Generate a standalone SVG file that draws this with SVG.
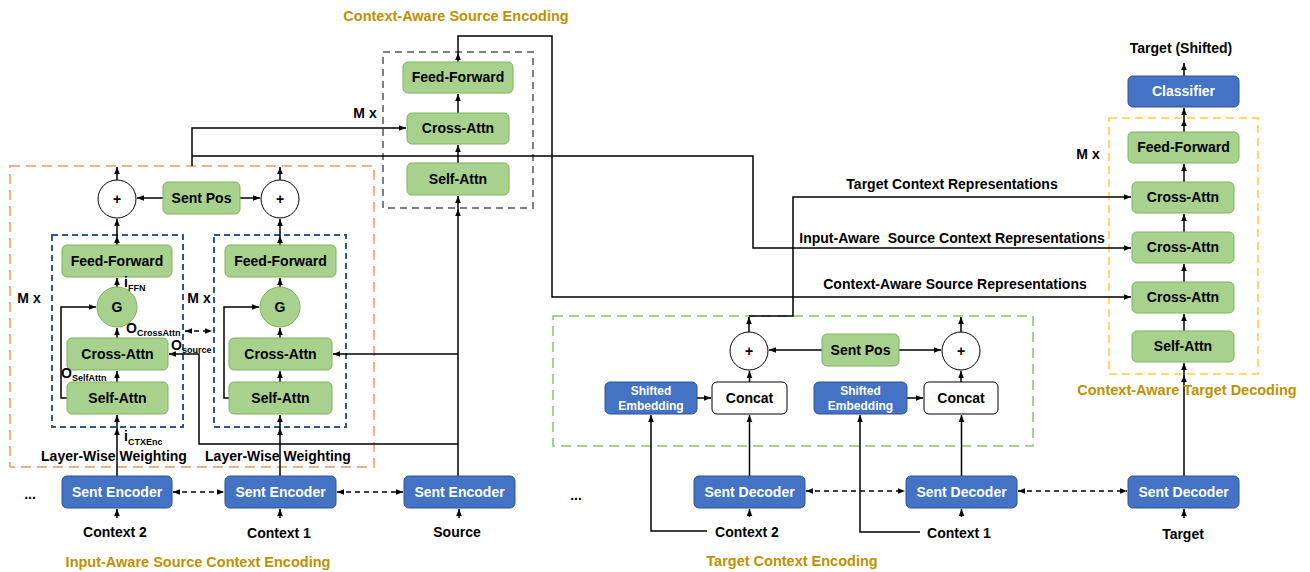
<svg xmlns="http://www.w3.org/2000/svg" width="1310" height="572" viewBox="0 0 1310 572">
  <defs>
    <marker id="arr" viewBox="0 0 10 10" refX="10" refY="5" markerWidth="7" markerHeight="7" markerUnits="userSpaceOnUse" orient="auto-start-reverse">
      <path d="M0,1 L10,5 L0,9 z" fill="#000"/>
    </marker>
    <style>
      .t { font-family: "Liberation Sans", Arial, sans-serif; font-weight: bold; font-size: 14px; text-anchor: middle; fill: #000; }
      .w { fill: #fff; }
      .s { font-size: 12px; }
      .ttl { font-size: 14.5px; fill: #BF9000; }
      .st { text-anchor: start; }
      .sub { font-size: 9px; }
      .gb { fill: #A9D18E; stroke: #7DB35C; stroke-width: 1; }
      .bb { fill: #4472C4; stroke: #2F528F; stroke-width: 1; }
      .wb { fill: #fff; stroke: #000; stroke-width: 1; }
      .ln { stroke: #000; stroke-width: 1.5; fill: none; }
      .ar { marker-end: url(#arr); }
      .bi { marker-start: url(#arr); marker-end: url(#arr); stroke-dasharray: 5 4; }
      .fr { fill: none; stroke-width: 2; }
    </style>
  </defs>

  <!-- dashed group frames -->
  <g id="frames">
    <rect x="10" y="166" width="364" height="301" class="fr" stroke="#F4B183" stroke-dasharray="10 6"/>
    <rect x="52" y="235" width="131" height="192" class="fr" stroke="#2F5597" stroke-width="1.5" stroke-dasharray="6 4"/>
    <rect x="214" y="235" width="132" height="192" class="fr" stroke="#2F5597" stroke-width="1.5" stroke-dasharray="6 4"/>
    <rect x="383" y="52" width="150" height="156" class="fr" stroke="#808080" stroke-width="1.5" stroke-dasharray="7 5"/>
    <rect x="1109" y="118" width="149" height="256" class="fr" stroke="#FFD966" stroke-dasharray="8 5"/>
    <rect x="553" y="316" width="480" height="130" class="fr" stroke="#A9D18E" stroke-dasharray="10 6"/>
  </g>

  <!-- connectors -->
  <g id="connectors">
    <!-- source-context encoder column 1 -->
    <path class="ln ar" d="M117,476 V428"/>
    <path class="ln ar" d="M117,428 V415"/>
    <path class="ln ar" d="M117,382 V371"/>
    <path class="ln ar" d="M117,338 V328"/>
    <path class="ln ar" d="M117,287 V278"/>
    <path class="ln ar" d="M117,245 V236"/>
    <path class="ln ar" d="M117,236 V219"/>
    <path class="ln ar" d="M117,180 V167"/>
    <path class="ln ar" d="M67,398 H61 V307 H96"/>
    <!-- source-context encoder column 2 -->
    <path class="ln ar" d="M280,476 V428"/>
    <path class="ln ar" d="M280,428 V415"/>
    <path class="ln ar" d="M280,382 V371"/>
    <path class="ln ar" d="M280,338 V328"/>
    <path class="ln ar" d="M280,287 V278"/>
    <path class="ln ar" d="M280,245 V236"/>
    <path class="ln ar" d="M280,236 V219"/>
    <path class="ln ar" d="M280,180 V167"/>
    <path class="ln ar" d="M229,398 H224 V307 H259"/>
    <!-- sentence position into both sums -->
    <path class="ln ar" d="M163,198 H137"/>
    <path class="ln ar" d="M240,198 H260"/>
    <path class="ln bi" d="M185,331 H212"/>
    <!-- source stream -->
    <path class="ln ar" d="M458,476 V209"/>
    <path class="ln ar" d="M458,209 V196"/>
    <path class="ln ar" d="M458,354 H333"/>
    <path class="ln ar" d="M458,444 H199 V354 H169"/>
    <!-- context representations -->
    <path class="ln ar" d="M192,166 V128 H406"/>
    <path class="ln ar" d="M192,156 H753 V248 H1131"/>
    <!-- context-aware source encoder -->
    <path class="ln ar" d="M458,163 V145"/>
    <path class="ln ar" d="M458,113 V94"/>
    <path class="ln ar" d="M458,62 V53"/>
    <path class="ln ar" d="M458,53 V36 H552 V297 H1131"/>
    <!-- target context encoding -->
    <path class="ln ar" d="M749,332 V317"/>
    <path class="ln ar" d="M961,332 V317"/>
    <path class="ln ar" d="M749,316 H793 V197 H1131"/>
    <path class="ln ar" d="M822,350 H769"/>
    <path class="ln ar" d="M899,350 H941"/>
    <path class="ln ar" d="M697,398 H711"/>
    <path class="ln ar" d="M907,398 H923"/>
    <path class="ln ar" d="M749.5,382 V371"/>
    <path class="ln ar" d="M961,382 V371"/>
    <path class="ln ar" d="M749.5,476 V415"/>
    <path class="ln ar" d="M961.5,476 V415"/>
    <path class="ln ar" d="M707,531 H651 V415"/>
    <path class="ln ar" d="M920,532 H860 V415"/>
    <!-- target decoder column -->
    <path class="ln ar" d="M1184,476 V375"/>
    <path class="ln ar" d="M1184,375 V363"/>
    <path class="ln ar" d="M1184,331 V314"/>
    <path class="ln ar" d="M1184,282 V264"/>
    <path class="ln ar" d="M1184,232 V214"/>
    <path class="ln ar" d="M1184,182 V164"/>
    <path class="ln ar" d="M1184,132 V119"/>
    <path class="ln ar" d="M1184,119 V108"/>
    <path class="ln ar" d="M1184,76 V63"/>
    <!-- inputs into sentence encoders / decoders -->
    <path class="ln ar" d="M117,518 V509"/>
    <path class="ln ar" d="M280,518 V509"/>
    <path class="ln ar" d="M459,518 V509"/>
    <path class="ln ar" d="M749.5,517 V509"/>
    <path class="ln ar" d="M961.5,517 V509"/>
    <path class="ln ar" d="M1184,518 V509"/>
    <!-- links between neighbouring sentences -->
    <path class="ln bi" d="M173,492 H224"/>
    <path class="ln bi" d="M337,492 H403"/>
    <path class="ln bi" d="M806,491 H905"/>
    <path class="ln bi" d="M1018,491 H1127"/>
  </g>

  <!-- input-aware source context encoder, column 1 -->
  <g id="sum1"><circle cx="117" cy="199" r="19" class="wb"/><text x="117" y="204" class="t">+</text></g>
  <g id="ff1"><rect x="62" y="245" width="110" height="32" rx="5" class="gb"/><text x="117" y="266" class="t">Feed-Forward</text></g>
  <g id="gate1"><circle cx="117" cy="307" r="20" class="gb"/><text x="117" y="312" class="t">G</text></g>
  <g id="cross1"><rect x="67" y="338" width="101" height="32" rx="5" class="gb"/><text x="117.5" y="359" class="t">Cross-Attn</text></g>
  <g id="self1"><rect x="67" y="382" width="101" height="32" rx="5" class="gb"/><text x="117.5" y="403" class="t">Self-Attn</text></g>

  <!-- input-aware source context encoder, column 2 -->
  <g id="sum2"><circle cx="280" cy="199" r="19" class="wb"/><text x="280" y="204" class="t">+</text></g>
  <g id="ff2"><rect x="225" y="245" width="111" height="32" rx="5" class="gb"/><text x="280.5" y="266" class="t">Feed-Forward</text></g>
  <g id="gate2"><circle cx="280" cy="307" r="20" class="gb"/><text x="280" y="312" class="t">G</text></g>
  <g id="cross2"><rect x="229" y="338" width="103" height="32" rx="5" class="gb"/><text x="280.5" y="359" class="t">Cross-Attn</text></g>
  <g id="self2"><rect x="229" y="382" width="103" height="32" rx="5" class="gb"/><text x="280.5" y="403" class="t">Self-Attn</text></g>

  <g id="sentpos1"><rect x="163" y="182" width="77" height="32" rx="5" class="gb"/><text x="201.5" y="203" class="t">Sent Pos</text></g>

  <!-- source-side sentence encoders -->
  <g id="enc-ctx2"><rect x="62" y="476" width="110" height="32" rx="5" class="bb"/><text x="117" y="497" class="t w">Sent Encoder</text></g>
  <g id="enc-ctx1"><rect x="225" y="476" width="111" height="32" rx="5" class="bb"/><text x="280.5" y="497" class="t w">Sent Encoder</text></g>
  <g id="enc-src"><rect x="404" y="476" width="111" height="32" rx="5" class="bb"/><text x="459.5" y="497" class="t w">Sent Encoder</text></g>

  <!-- context-aware source encoder -->
  <g id="src-ff"><rect x="403" y="62" width="110" height="31" rx="5" class="gb"/><text x="458" y="82" class="t">Feed-Forward</text></g>
  <g id="src-cross"><rect x="407" y="113" width="102" height="31" rx="5" class="gb"/><text x="458" y="133" class="t">Cross-Attn</text></g>
  <g id="src-self"><rect x="407" y="163" width="102" height="32" rx="5" class="gb"/><text x="458" y="184" class="t">Self-Attn</text></g>

  <!-- target context encoding -->
  <g id="sum3"><circle cx="749" cy="351" r="19" class="wb"/><text x="749" y="356" class="t">+</text></g>
  <g id="sum4"><circle cx="961" cy="351" r="19" class="wb"/><text x="961" y="356" class="t">+</text></g>
  <g id="sentpos2"><rect x="822" y="334" width="77" height="32" rx="5" class="gb"/><text x="860.5" y="355" class="t">Sent Pos</text></g>
  <g id="shemb1"><rect x="605" y="382" width="92" height="32" rx="5" class="bb"/><text x="651" y="395" class="t w s">Shifted</text><text x="651" y="410" class="t w s">Embedding</text></g>
  <g id="concat1"><rect x="712" y="382" width="75" height="32" rx="5" class="wb"/><text x="749.5" y="403" class="t">Concat</text></g>
  <g id="shemb2"><rect x="814" y="382" width="93" height="32" rx="5" class="bb"/><text x="860.5" y="395" class="t w s">Shifted</text><text x="860.5" y="410" class="t w s">Embedding</text></g>
  <g id="concat2"><rect x="924" y="382" width="74" height="32" rx="5" class="wb"/><text x="961" y="403" class="t">Concat</text></g>
  <g id="dec-ctx2"><rect x="694" y="476" width="111" height="32" rx="5" class="bb"/><text x="749.5" y="497" class="t w">Sent Decoder</text></g>
  <g id="dec-ctx1"><rect x="906" y="476" width="111" height="32" rx="5" class="bb"/><text x="961.5" y="497" class="t w">Sent Decoder</text></g>
  <g id="dec-tgt"><rect x="1128" y="476" width="111" height="32" rx="5" class="bb"/><text x="1183.5" y="497" class="t w">Sent Decoder</text></g>

  <!-- context-aware target decoder -->
  <g id="classifier"><rect x="1128" y="76" width="111" height="31" rx="5" class="bb"/><text x="1183.5" y="96" class="t w">Classifier</text></g>
  <g id="tgt-ff"><rect x="1128" y="132" width="111" height="31" rx="5" class="gb"/><text x="1183.5" y="152" class="t">Feed-Forward</text></g>
  <g id="tgt-cross1"><rect x="1132" y="182" width="102" height="31" rx="5" class="gb"/><text x="1183" y="202" class="t">Cross-Attn</text></g>
  <g id="tgt-cross2"><rect x="1132" y="232" width="102" height="31" rx="5" class="gb"/><text x="1183" y="252" class="t">Cross-Attn</text></g>
  <g id="tgt-cross3"><rect x="1132" y="282" width="102" height="31" rx="5" class="gb"/><text x="1183" y="302" class="t">Cross-Attn</text></g>
  <g id="tgt-self"><rect x="1132" y="331" width="102" height="31" rx="5" class="gb"/><text x="1183" y="351" class="t">Self-Attn</text></g>

  <!-- labels -->
  <g id="labels">
    <text x="456" y="21" class="t ttl">Context-Aware Source Encoding</text>
    <text x="198" y="567" class="t ttl">Input-Aware Source Context Encoding</text>
    <text x="792" y="566" class="t ttl">Target Context Encoding</text>
    <text x="1187" y="395" class="t ttl">Context-Aware Target Decoding</text>
    <text x="1181" y="53" class="t">Target (Shifted)</text>
    <text x="952" y="189" class="t">Target Context Representations</text>
    <text x="952" y="243" class="t" xml:space="preserve">Input-Aware  Source Context Representations</text>
    <text x="955" y="289" class="t">Context-Aware Source Representations</text>
    <text x="365" y="118" class="t">M x</text>
    <text x="1088" y="159" class="t">M x</text>
    <text x="29" y="303" class="t">M x</text>
    <text x="199" y="303" class="t">M x</text>
    <text x="114" y="461" class="t">Layer-Wise Weighting</text>
    <text x="278" y="461" class="t">Layer-Wise Weighting</text>
    <text x="115" y="537" class="t">Context 2</text>
    <text x="279" y="538" class="t">Context 1</text>
    <text x="457" y="537" class="t">Source</text>
    <text x="747" y="537" class="t">Context 2</text>
    <text x="959" y="538" class="t">Context 1</text>
    <text x="1183" y="539" class="t">Target</text>
    <text x="30" y="499" class="t">...</text>
    <text x="576" y="500" class="t">...</text>
    <text x="124" y="287" class="t st">i<tspan class="sub" dy="4">FFN</tspan></text>
    <text x="126" y="333" class="t st">O<tspan class="sub" dy="3">CrossAttn</tspan></text>
    <text x="61" y="378" class="t st">O<tspan class="sub" dy="3">SelfAttn</tspan></text>
    <text x="171" y="350" class="t st">O<tspan class="sub" dy="3" font-size="8.5">source</tspan></text>
    <text x="124" y="441" class="t st">i<tspan class="sub" dy="4">CTXEnc</tspan></text>
  </g>
</svg>
